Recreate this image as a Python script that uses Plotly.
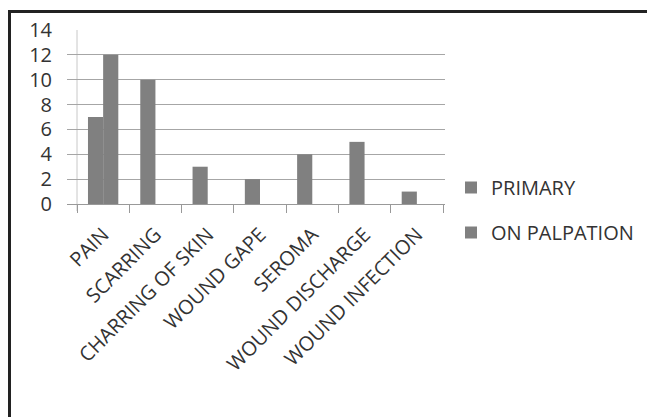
import plotly.graph_objects as go

categories = ["PAIN", "SCARRING", "CHARRING OF SKIN", "WOUND GAPE", "SEROMA",
              "WOUND DISCHARGE", "WOUND INFECTION"]
primary = [7, 10, 3, 2, 4, 5, 1]
on_palpation = [12, 0, 0, 0, 0, 0, 0]
y_ticks = [0, 2, 4, 6, 8, 10, 12, 14]

W, H = 647, 417
L, R, T, B = 67, 202, 30, 213
pw, ph = W - L - R, H - T - B

def px_x(p):
    return (p - L) / pw

def px_y(p):
    return 1 - (p - T) / ph

bar_color = "#808080"
font_fam = "Open Sans, Liberation Sans, sans-serif"

fig = go.Figure()
fig.add_trace(go.Bar(name="PRIMARY", x=categories, y=primary,
                     marker=dict(color=bar_color, line=dict(width=0)),
                     legendgroup="a"))
fig.add_trace(go.Bar(name="ON PALPATION", x=categories, y=on_palpation,
                     marker=dict(color=bar_color, line=dict(width=0)),
                     legendgroup="b"))

cat_w = (443 - 77) / len(categories)
xmin = -0.5 - (77 - L) / cat_w
xmax = len(categories) - 0.5 + (W - R - 443) / cat_w

fig.update_layout(
    width=W, height=H,
    margin=dict(l=L, r=R, t=T, b=B, pad=0, autoexpand=False),
    paper_bgcolor="white", plot_bgcolor="white",
    barmode="group", bargap=0.42, bargroupgap=0,
    font=dict(family=font_fam, color="#333333"),
    showlegend=True,
    legend=dict(x=px_x(451), y=px_y(168), xanchor="left", yanchor="top",
                font=dict(size=20, color="#333333"),
                tracegroupgap=16, itemwidth=30,
                bgcolor="rgba(0,0,0,0)"),
    xaxis=dict(
        type="category", range=[xmin, xmax],
        tickangle=-45, tickfont=dict(size=20, color="#333333"),
        tickson="boundaries", ticks="outside", ticklen=8, tickcolor="#999999",
        ticklabelstandoff=10, automargin=False,
        showline=True, linecolor="#999999", linewidth=1,
        showgrid=False,
    ),
    yaxis=dict(
        range=[0, 14], tickvals=y_ticks,
        tickfont=dict(size=20, color="#333333"),
        showgrid=True, gridcolor="#a6a6a6", gridwidth=1,
        zeroline=False, showline=False, ticks="",
        ticklabelstandoff=14, automargin=False,
    ),
    shapes=[
        dict(type="line", xref="x", yref="paper", x0=-0.5, x1=-0.5,
             y0=px_y(211), y1=1, line=dict(color="#c8c8c8", width=1),
             layer="below"),
        # outer frame: only the left and top edges are visible in the crop
        dict(type="line", xref="paper", yref="paper",
             x0=px_x(9.5), x1=px_x(9.5), y0=px_y(H + 5), y1=px_y(10),
             line=dict(color="#222222", width=3)),
        dict(type="line", xref="paper", yref="paper",
             x0=px_x(8), x1=px_x(W + 5), y0=px_y(11.5), y1=px_y(11.5),
             line=dict(color="#222222", width=3)),
    ],
)

fig.write_html("out.html")
